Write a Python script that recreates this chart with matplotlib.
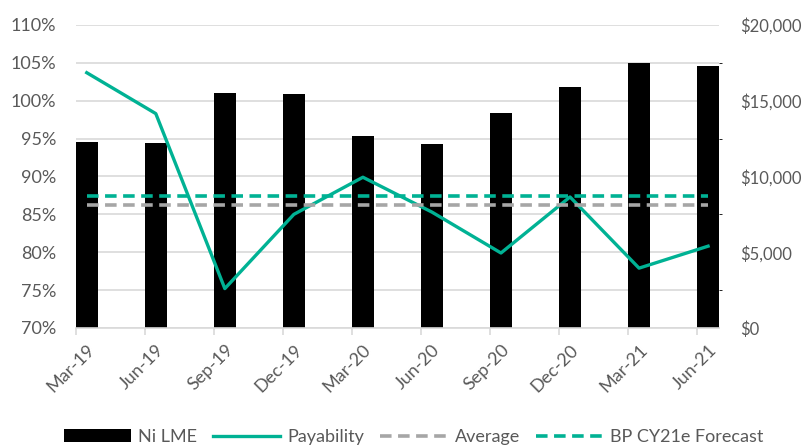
import matplotlib
matplotlib.use('Agg')
import matplotlib.pyplot as plt
from matplotlib.ticker import FuncFormatter, MultipleLocator

quarters = ['Mar-19', 'Jun-19', 'Sep-19', 'Dec-19', 'Mar-20',
            'Jun-20', 'Sep-20', 'Dec-20', 'Mar-21', 'Jun-21']
ni_lme = [12300, 12230, 15500, 15420, 12700, 12150, 14200, 15930, 17500, 17300]
payability = [103.7, 98.3, 75.2, 85.0, 89.9, 85.3, 79.9, 87.3, 77.9, 80.8]
average = [86.3] * 10
bp_forecast = [87.4] * 10

teal = '#00B294'
grey = '#A6A6A6'
text_color = '#595959'
plt.rcParams['font.family'] = ['Lato', 'DejaVu Sans']

fig = plt.figure(figsize=(8.08, 4.46), dpi=100)
ax = fig.add_axes([0.0937, 0.2646, 0.7963, 0.6794])
ax2 = ax.twinx()

x = list(range(len(quarters)))
w = 0.32

# bars go on the bottom axes so the lines are drawn over them
bars = ax.bar(x, ni_lme, width=w, color='black', label='Ni LME', zorder=2)
ax.set_ylim(0, 20000)
ax.set_xlim(-w / 2, 9 + w / 2)
ax.yaxis.set_major_locator(MultipleLocator(5000))
ax.yaxis.set_minor_locator(MultipleLocator(2500))
ax.yaxis.set_major_formatter(FuncFormatter(lambda v, p: '${:,.0f}'.format(v)))
ax.yaxis.tick_right()
ax.grid(axis='y', which='both', color='#D9D9D9', linewidth=1.2)
ax.set_axisbelow(True)

l1, = ax2.plot(x, payability, color=teal, linewidth=2.4, label='Payability')
l2, = ax2.plot(x, average, color=grey, linewidth=2.6, dashes=(3.2, 1.8), label='Average')
l3, = ax2.plot(x, bp_forecast, color=teal, linewidth=2.6, dashes=(3.2, 1.8), label='BP CY21e Forecast')
ax2.set_ylim(70, 110)
ax2.yaxis.set_major_locator(MultipleLocator(5))
ax2.yaxis.set_major_formatter(FuncFormatter(lambda v, p: '{:.0f}%'.format(v)))
ax2.yaxis.tick_left()

for a in (ax, ax2):
    for s in a.spines.values():
        s.set_visible(False)
ax.tick_params(axis='y', length=0, labelsize=12, labelcolor=text_color, pad=15)
ax2.tick_params(axis='y', length=0, labelsize=13, labelcolor=text_color, pad=14)
ax.spines['bottom'].set_visible(True)
ax.spines['bottom'].set_color('#D9D9D9')
ax.spines['bottom'].set_linewidth(1.2)

ax.set_xticks(x)
ax.set_xticklabels(quarters, rotation=45, ha='right', rotation_mode='anchor')
ax.tick_params(axis='x', which='major', length=0, labelsize=13, labelcolor=text_color, pad=10)
ax.set_xticks([i - w / 2 for i in x], minor=True)
ax.tick_params(axis='x', which='minor', length=5, color='#D9D9D9', width=1.2)

fig.legend([bars, l1, l2, l3], ['Ni LME', 'Payability', 'Average', 'BP CY21e Forecast'],
           loc='center', bbox_to_anchor=(0.512, 0.02), ncol=4, frameon=False,
           fontsize=13, labelcolor=text_color, handlelength=3.7, columnspacing=0.9,
           handletextpad=0.4)

plt.savefig('out.png', dpi=100)
